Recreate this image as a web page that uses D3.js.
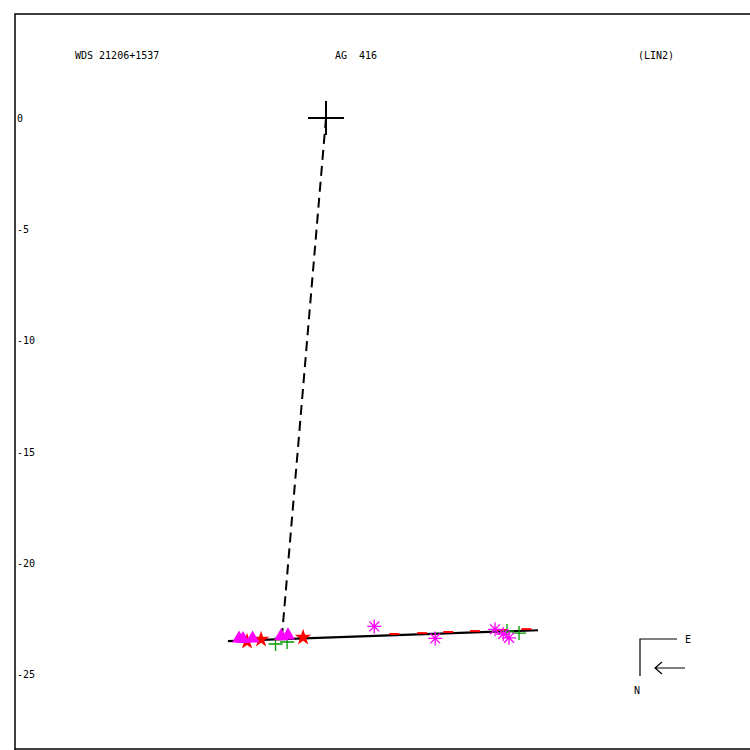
<!DOCTYPE html>
<html><head><meta charset="utf-8">
<script src="https://cdn.jsdelivr.net/npm/d3@7"></script>
<style>body{margin:0;background:#fff}svg{display:block}text{font-family:"DejaVu Sans Mono",monospace;font-size:10px;fill:#000;white-space:pre}</style>
</head><body>
<script>
// Data (arcsec offsets relative to primary)
const yTicks = [0, -5, -10, -15, -20, -25];
const titleLeft = "WDS 21206+1537";
const titleMid = "AG  416";
const titleRight = "(LIN2)";
const triangles = [[-3.91,-23.45],[-3.73,-23.47],[-3.30,-23.45],[-2.02,-23.34],[-1.71,-23.31]];
const stars = [[-3.55,-23.54],[-2.92,-23.44],[-1.03,-23.35]];
const plusses = [[-2.27,-23.65],[-1.75,-23.56],[8.14,-23.07],[8.68,-23.16]];
const asterisks = [[2.17,-22.86],[4.91,-23.40],[7.60,-22.99],[7.97,-23.20],[8.23,-23.37]];
const residuals = [[3.07,-23.20],[4.32,-23.16],[5.50,-23.11],[6.70,-23.07],[7.93,-23.02],[9.01,-22.98]];
const orbit = [[-4.41,-23.52],[9.53,-23.03]];
const apsis = [[0,0],[-1.98,-23.30]];

const W = 750, H = 750;
const svg = d3.select("body").append("svg").attr("width", W).attr("height", H);
const x = d3.scaleLinear().domain([-13.984, 19.065]).range([15, 750]);
const y = d3.scaleLinear().domain([4.676, -28.37]).range([14, 749]);

// frame
svg.append("path").attr("d", `M15,${H+5}V14H${W+5}M15,749H${W+5}`)
  .attr("fill","none").attr("stroke","#000").attr("stroke-width",1.5);

// titles
svg.append("text").attr("x",75).attr("y",59).attr("xml:space","preserve").text(titleLeft);
svg.append("text").attr("x",335).attr("y",59).attr("xml:space","preserve").text(titleMid);
svg.append("text").attr("x",638).attr("y",59).attr("xml:space","preserve").text(titleRight);

// y axis labels
svg.selectAll("text.yt").data(yTicks).enter().append("text").attr("class","yt")
  .attr("x",17).attr("y",d=>y(d)+4).text(d=>d);

const line = d3.line().x(d=>x(d[0])).y(d=>y(d[1]));

// apsis dashed line
svg.append("path").attr("d", line(apsis)).attr("stroke","#000").attr("stroke-width",2)
  .attr("stroke-dasharray","10,6").attr("fill","none");

// orbit line
svg.append("path").attr("d", line(orbit)).attr("stroke","#000").attr("stroke-width",2.2).attr("fill","none");

// residual red ticks
svg.selectAll("line.res").data(residuals).enter().append("line")
  .attr("x1",d=>x(d[0])-5).attr("x2",d=>x(d[0])+5).attr("y1",d=>y(d[1])).attr("y2",d=>y(d[1]))
  .attr("stroke","#ff0000").attr("stroke-width",2);

// primary cross
svg.append("path").attr("d", `M${x(0)-18},${y(0)}H${x(0)+18}M${x(0)},${y(0)-17}V${y(0)+17}`)
  .attr("stroke","#000").attr("stroke-width",2);

// markers
svg.selectAll("path.plus").data(plusses).enter().append("path")
  .attr("d", d=>`M${x(d[0])-7},${y(d[1])}h14M${x(d[0])},${y(d[1])-7}v14`)
  .attr("stroke","#009900").attr("stroke-width",1.3);

const star = d3.symbol().type(d3.symbolStar).size(85);
svg.selectAll("path.star").data(stars).enter().append("path")
  .attr("d", star).attr("transform", d=>`translate(${x(d[0])},${y(d[1])})`).attr("fill","#ff0000");

const tri = d3.symbol().type(d3.symbolTriangle).size(85);
svg.selectAll("path.tri").data(triangles).enter().append("path")
  .attr("d", tri).attr("transform", d=>`translate(${x(d[0])},${y(d[1])-1})`).attr("fill","#ff00ff");

svg.selectAll("path.ast").data(asterisks).enter().append("path")
  .attr("d", d=>{const cx=x(d[0]),cy=y(d[1]),r=7;let s="";
    for(let k=0;k<4;k++){const a=k*Math.PI/4;s+=`M${cx-r*Math.cos(a)},${cy-r*Math.sin(a)}L${cx+r*Math.cos(a)},${cy+r*Math.sin(a)}`;}return s;})
  .attr("stroke","#ff00ff").attr("stroke-width",1.3).attr("fill","none");

// compass
svg.append("path").attr("d","M640,676V639H677").attr("stroke","#000").attr("fill","none").attr("stroke-width",1.2);
svg.append("text").attr("x",685).attr("y",643).text("E");
svg.append("text").attr("x",634).attr("y",694).text("N");
svg.append("path").attr("d","M685,668H655M662,662L655,668L662,674").attr("stroke","#000").attr("fill","none").attr("stroke-width",1.2);
</script>
</body></html>
